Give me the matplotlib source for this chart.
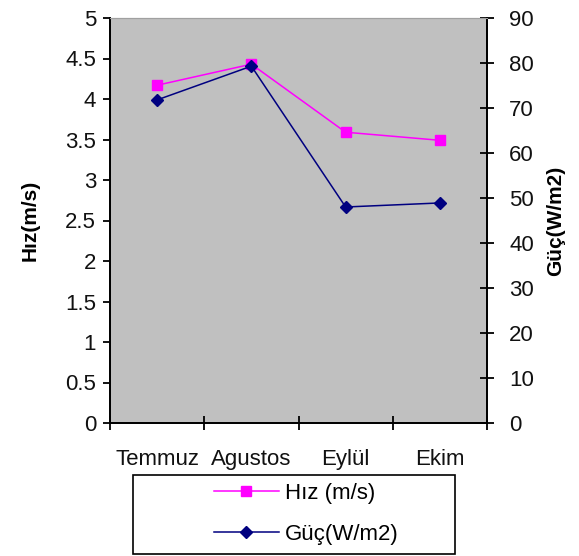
import matplotlib
matplotlib.use("Agg")
import matplotlib.pyplot as plt
from matplotlib.patches import Rectangle
import numpy as np

months = ["Temmuz", "Agustos", "Eylül", "Ekim"]
hiz = [4.17, 4.43, 3.59, 3.49]
guc = [71.8, 79.3, 48.0, 48.9]
left_ticks = [0, 0.5, 1, 1.5, 2, 2.5, 3, 3.5, 4, 4.5, 5]
left_labels = ["0", "0.5", "1", "1.5", "2", "2.5", "3", "3.5", "4", "4.5", "5"]
right_ticks = [0, 10, 20, 30, 40, 50, 60, 70, 80, 90]

plt.rcParams['font.family'] = ['Liberation Sans', 'DejaVu Sans']
FS = 16

fig = plt.figure(figsize=(5.79, 5.56), dpi=100)
ax = fig.add_axes([110/579, 1-423/556, (487-110)/579, (423-18)/556])
ax.set_facecolor("#C0C0C0")
ax2 = ax.twinx()

x = np.arange(len(months))
l1, = ax.plot(x, hiz, color="#FF00FF", marker="s", markersize=7, lw=1.1, label="Hız (m/s)")
l2, = ax2.plot(x, guc, color="#000080", marker="D", markersize=6, lw=1.1, label="Güç(W/m2)")

ax.set_xlim(-0.5, len(months) - 0.5)
ax.set_ylim(0, 5)
ax2.set_ylim(0, 90)

ax.set_xticks(np.arange(-0.5, len(months), 1.0))
ax.set_xticklabels([])
ax.set_xticks(x, minor=True)
ax.set_xticklabels(months, minor=True, fontsize=FS, color="#111111")
ax.tick_params(axis="x", which="major", direction="inout", length=10, width=1.3)
ax.tick_params(axis="x", which="minor", length=0, pad=19)

ax.set_yticks(left_ticks)
ax.set_yticklabels(left_labels, fontsize=FS, color="#111111")
ax.tick_params(axis="y", direction="out", length=5, width=1.3, pad=5)
ax2.set_yticks(right_ticks)
ax2.set_yticklabels([str(t) for t in right_ticks], fontsize=FS, color="#111111")
ax2.tick_params(axis="y", direction="inout", length=10, width=1.3, pad=11)

for a in (ax, ax2):
    a.spines["top"].set_color("#A0A0A0")
    a.spines["top"].set_linewidth(0.8)
    for s in ("left", "bottom", "right"):
        a.spines[s].set_linewidth(1.3)
        a.spines[s].set_color("black")

ax.set_ylabel("Hız(m/s)", fontsize=15, fontweight="bold", labelpad=18)
ax2.set_ylabel("Güç(W/m2)", fontsize=15, fontweight="bold", labelpad=9)

# legend box
fig.patches.append(Rectangle((133/579, 1-554/556), (455-133)/579, (554-475)/556,
                             transform=fig.transFigure, fill=False, edgecolor="black",
                             linewidth=1.2))
fig.legend(handles=[l1, l2], loc="center left", bbox_to_anchor=(203/579, 1-514/556),
           frameon=False, fontsize=FS, borderpad=0, handlelength=2.9,
           handletextpad=0.3, labelspacing=0.9)

fig.savefig("out.png", dpi=100, facecolor="white")
